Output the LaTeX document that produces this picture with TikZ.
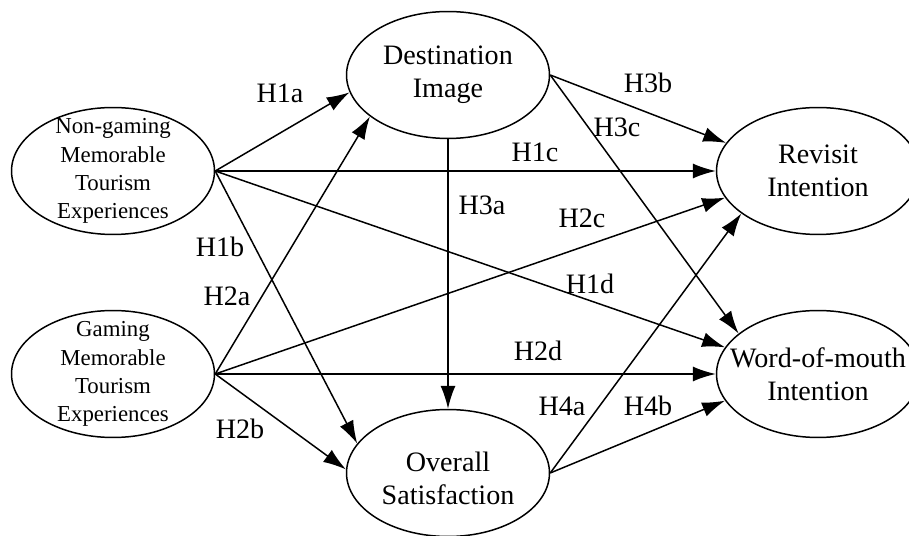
\documentclass[tikz,border=0pt]{standalone}
\usepackage{fontspec}
\setmainfont{Liberation Serif}
\usetikzlibrary{shapes.geometric,arrows.meta}
\begin{document}
\begin{tikzpicture}[x=0.02cm,y=-0.02cm,
  ell/.style={draw,ellipse,line width=0.85pt,inner sep=0pt,minimum width=4.06cm,minimum height=2.54cm},
  bigtxt/.style={align=center,inner sep=0pt,font=\fontsize{16}{19}\selectfont},
  smalltxt/.style={align=center,inner sep=0pt,font=\fontsize{13}{16}\selectfont},
  lab/.style={inner sep=0pt,font=\fontsize{16}{19}\selectfont},
  arr/.style={line width=0.85pt,-{Latex[length=13pt,width=8.5pt]}}]
\useasboundingbox (0,0) rectangle (909,536);
% ellipses
\node[ell] (ng) at (113,171) {};
\node[ell] (gm) at (113,374) {};
\node[ell] (dest) at (448,75) {};
\node[ell] (ov) at (448,473) {};
\node[ell] (rev) at (818,171) {};
\node[ell] (wom) at (818,374) {};
% texts
\node[smalltxt] (ngT) at (ng) {Non-gaming\\Memorable\\Tourism\\Experiences};
\node[smalltxt] (gmT) at (gm) {Gaming\\Memorable\\Tourism\\Experiences};
\node[bigtxt] (destT) at (dest) {Destination\\Image};
\node[bigtxt] (ovT) at ([yshift=-3]ov) {Overall\\Satisfaction};
\node[bigtxt] (revT) at (rev) {Revisit\\Intention};
\node[bigtxt] (womT) at (wom) {Word-of-mouth\\Intention};
% connectors
\draw[arr] (ng.east) -- (dest.190);
\draw[arr] (ng.east) -- (ov.162);
\draw[arr] (ng.east) -- (rev.west);
\draw[arr] (ng.east) -- (wom.164);
\draw[arr] (gm.east) -- (dest.208);
\draw[arr] (gm.east) -- (ov.178);
\draw[arr] (gm.east) -- (rev.196);
\draw[arr] (gm.east) -- (wom.west);
\draw[arr] (dest.south) -- (ov.north);
\draw[arr] (dest.east) -- (rev.163);
\draw[arr] (dest.east) -- (wom.153);
\draw[arr] (ov.east) -- (rev.209);
\draw[arr] (ov.east) -- (wom.196);
% labels
\node[lab] (l1a) at (280,93) {H1a};
\node[lab] (l1b) at (220,247) {H1b};
\node[lab] (l2a) at (227,296) {H2a};
\node[lab] (l2b) at (240,429) {H2b};
\node[lab] (l1c) at (535,152) {H1c};
\node[lab] (l3a) at (482,205) {H3a};
\node[lab] (l3b) at (648,83) {H3b};
\node[lab] (l3c) at (617,127) {H3c};
\node[lab] (l2c) at (582,218) {H2c};
\node[lab] (l1d) at (590,284) {H1d};
\node[lab] (l2d) at (538,351) {H2d};
\node[lab] (l4a) at (562,406) {H4a};
\node[lab] (l4b) at (648,406) {H4b};
\end{tikzpicture}
\end{document}
